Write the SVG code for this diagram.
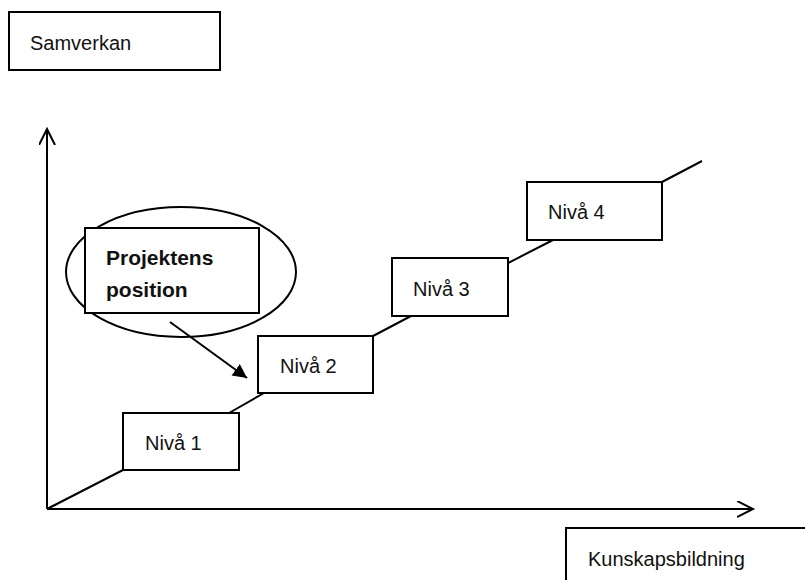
<svg xmlns="http://www.w3.org/2000/svg" width="805" height="580" viewBox="0 0 805 580">
  <style>
    .box { fill: #fff; stroke: #000; stroke-width: 2; }
    .line { fill: none; stroke: #000; stroke-width: 2; }
    .lbl { font-family: "Liberation Sans", Arial, sans-serif; font-size: 20px; fill: #111; }
    .bold { font-weight: bold; font-size: 21px; }
  </style>
  <defs>
    <marker id="open" markerWidth="20" markerHeight="20" refX="16" refY="8" orient="auto" markerUnits="userSpaceOnUse">
      <path d="M0,0 L16,8 L0,16" fill="none" stroke="#000" stroke-width="2"/>
    </marker>
    <marker id="solid" markerWidth="20" markerHeight="20" refX="14" refY="7" orient="auto" markerUnits="userSpaceOnUse">
      <path d="M0,0 L14,7 L0,14 Z" fill="#000"/>
    </marker>
  </defs>

  <g id="connectors">
    <!-- axes -->
    <line class="line" x1="47" y1="509" x2="47" y2="129" marker-end="url(#open)"/>
    <line class="line" x1="47" y1="509" x2="753" y2="509" marker-end="url(#open)"/>
    <!-- staircase of levels -->
    <line class="line" x1="47" y1="509" x2="123" y2="470"/>
    <line class="line" x1="229" y1="413" x2="264" y2="393"/>
    <line class="line" x1="373" y1="336" x2="411" y2="316"/>
    <line class="line" x1="508" y1="263" x2="553" y2="240"/>
    <line class="line" x1="662" y1="182" x2="702" y2="161"/>
    <!-- pointer to level 2 -->
    <line class="line" x1="170" y1="322" x2="247" y2="378" marker-end="url(#solid)"/>
  </g>

  <g id="samverkan">
    <rect class="box" x="9" y="12" width="211" height="58"/>
    <text class="lbl" x="30" y="50">Samverkan</text>
  </g>

  <g id="kunskapsbildning">
    <rect class="box" x="566" y="528" width="260" height="70"/>
    <text class="lbl" x="588" y="566">Kunskapsbildning</text>
  </g>

  <g id="projektens-position">
    <ellipse class="line" cx="181" cy="272" rx="115" ry="65"/>
    <rect class="box" x="85" y="228" width="174" height="85"/>
    <text class="lbl bold" x="106" y="265">Projektens</text>
    <text class="lbl bold" x="106" y="297">position</text>
  </g>

  <g id="niva1">
    <rect class="box" x="123" y="413" width="116" height="57"/>
    <text class="lbl" x="145" y="450">Nivå 1</text>
  </g>

  <g id="niva2">
    <rect class="box" x="258" y="336" width="115" height="57"/>
    <text class="lbl" x="280" y="373">Nivå 2</text>
  </g>

  <g id="niva3">
    <rect class="box" x="392" y="258" width="116" height="58"/>
    <text class="lbl" x="413" y="296">Nivå 3</text>
  </g>

  <g id="niva4">
    <rect class="box" x="527" y="182" width="135" height="58"/>
    <text class="lbl" x="548" y="219">Nivå 4</text>
  </g>
</svg>
